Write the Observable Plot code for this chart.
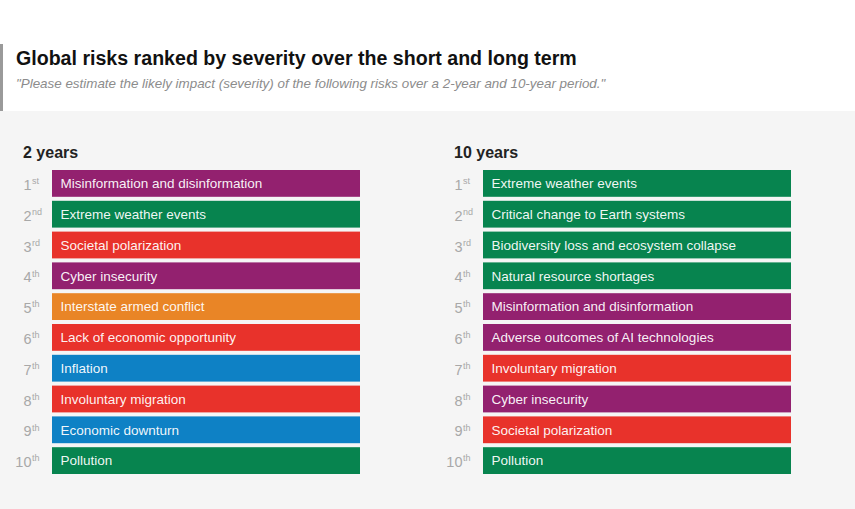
<!DOCTYPE html>
<html>
<head>
<meta charset="utf-8">
<script src="https://cdn.jsdelivr.net/npm/d3@7"></script>
<script src="https://cdn.jsdelivr.net/npm/@observablehq/plot@0.6"></script>
<style>
  html, body { margin: 0; padding: 0; background: #ffffff; }
  #head { position: relative; height: 111px; background: #ffffff; }
  #rule { position: absolute; left: 0; top: 44px; width: 3px; height: 67px; background: #9a9a9a; }
  #title { position: absolute; left: 16px; top: 47px; font: bold 19.6px "Liberation Sans", Arial, sans-serif; color: #111; white-space: nowrap; }
  #subtitle { position: absolute; left: 16px; top: 76px; font: italic 13.4px "Liberation Sans", Arial, sans-serif; color: #8c8c8c; white-space: nowrap; }
  #chart svg { display: block; }
</style>
</head>
<body>
<div id="head">
  <div id="rule"></div>
  <div id="title">Global risks ranked by severity over the short and long term</div>
  <div id="subtitle">"Please estimate the likely impact (severity) of the following risks over a 2-year and 10-year period."</div>
</div>
<div id="chart"></div>
<script>
const horizons = ["2 years", "10 years"];
const ranks = [1, 2, 3, 4, 5, 6, 7, 8, 9, 10];
const suffixes = ["st", "nd", "rd", "th", "th", "th", "th", "th", "th", "th"];

const risks2 = [
  "Misinformation and disinformation",
  "Extreme weather events",
  "Societal polarization",
  "Cyber insecurity",
  "Interstate armed conflict",
  "Lack of economic opportunity",
  "Inflation",
  "Involuntary migration",
  "Economic downturn",
  "Pollution"
];
const cats2 = ["Technological", "Environmental", "Societal", "Technological", "Geopolitical",
               "Societal", "Economic", "Societal", "Economic", "Environmental"];

const risks10 = [
  "Extreme weather events",
  "Critical change to Earth systems",
  "Biodiversity loss and ecosystem collapse",
  "Natural resource shortages",
  "Misinformation and disinformation",
  "Adverse outcomes of AI technologies",
  "Involuntary migration",
  "Cyber insecurity",
  "Societal polarization",
  "Pollution"
];
const cats10 = ["Environmental", "Environmental", "Environmental", "Environmental", "Technological",
                "Technological", "Societal", "Technological", "Societal", "Environmental"];

const categories = ["Economic", "Environmental", "Geopolitical", "Societal", "Technological"];
const categoryColors = ["#0e81c5", "#07844f", "#e98526", "#e8322b", "#93216f"];

const lists = {"2 years": [risks2, cats2], "10 years": [risks10, cats10]};
const rows = horizons.flatMap(h => ranks.map((r, i) => ({
  horizon: h,
  rank: r,
  suffix: suffixes[i],
  risk: lists[h][0][i],
  category: lists[h][1][i]
})));

const chart = Plot.plot({
  width: 855,
  height: 398,
  marginLeft: 52,
  marginRight: 64,
  marginTop: 59,
  marginBottom: 35,
  style: {background: "#f5f5f5", fontFamily: "'Liberation Sans', Arial, sans-serif"},
  fx: {domain: horizons, paddingInner: 0.2854, paddingOuter: 0, round: false, axis: null, label: null},
  y: {domain: ranks, paddingInner: 0.13, paddingOuter: 0, round: false, axis: null, label: null},
  color: {domain: categories, range: categoryColors},
  marks: [
    Plot.cell(rows, {fx: "horizon", y: "rank", fill: "category", inset: 0}),
    Plot.text(rows, {fx: "horizon", y: "rank", text: "risk", frameAnchor: "left", textAnchor: "start",
                     dx: 8, fill: "#ffffff", fillOpacity: 0.95, fontSize: 13.5}),
    Plot.text(rows, {fx: "horizon", y: "rank", text: d => String(d.rank), frameAnchor: "left",
                     textAnchor: "end", dx: -21, dy: 1.5, fill: "#a8a8a8", fontSize: 14.5}),
    Plot.text(rows, {fx: "horizon", y: "rank", text: "suffix", frameAnchor: "left",
                     textAnchor: "start", dx: -20.5, dy: -2.5, fill: "#a8a8a8", fontSize: 9}),
    Plot.text(horizons, {fx: d => d, text: d => d, frameAnchor: "top-left", textAnchor: "start",
                         lineAnchor: "middle", dx: -29.5, dy: -18, fill: "#222", fontSize: 16, fontWeight: "bold"})
  ]
});
document.getElementById("chart").appendChild(chart);
</script>
</body>
</html>
